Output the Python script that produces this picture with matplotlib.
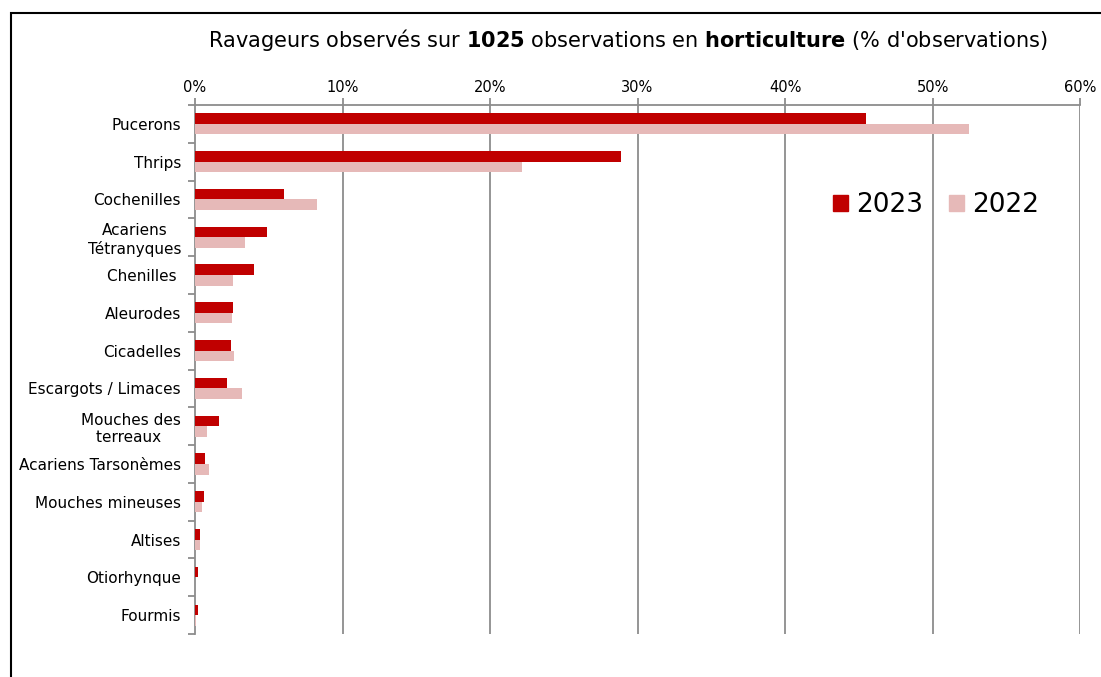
import matplotlib
matplotlib.use("Agg")
import matplotlib.pyplot as plt
from matplotlib.patches import Patch, Rectangle
import numpy as np

categories = ["Pucerons", "Thrips", "Cochenilles", "Acariens\nTétranyques", "Chenilles ",
              "Aleurodes", "Cicadelles", "Escargots / Limaces", "Mouches des\nterreaux ",
              "Acariens Tarsonèmes", "Mouches mineuses", "Altises", "Otiorhynque", "Fourmis"]
v2023 = [45.5, 28.9, 6.0, 4.9, 4.0, 2.56, 2.44, 2.17, 1.65, 0.70, 0.59, 0.32, 0.2, 0.2]
v2022 = [52.5, 22.2, 8.27, 3.4, 2.6, 2.49, 2.62, 3.17, 0.81, 0.93, 0.47, 0.32, 0.0, 0.1]
xticks = [0, 10, 20, 30, 40, 50, 60]

c23 = "#C00000"
c22 = "#E6B9B8"
grid = "#8C8C8C"

plt.rcParams['font.family'] = ['DejaVu Sans']
fig = plt.figure(figsize=(11.01, 6.77), dpi=100)
fig.patches.append(Rectangle((11/1101, -0.1), 1.2, 1 - 13/677 + 0.1, transform=fig.transFigure,
                             fill=False, edgecolor="black", linewidth=1.5))
ax = fig.add_axes([195/1101, 1 - 634/677, (1080 - 195)/1101, (634 - 105)/677])

y = np.arange(len(categories))
h = 0.28
ax.barh(y - h/2, v2023, height=h, color=c23, zorder=3)
ax.barh(y + h/2, v2022, height=h, color=c22, zorder=3)

ax.set_ylim(len(categories) - 0.5, -0.5)
ax.set_xlim(0, 60)
ax.xaxis.tick_top()
ax.set_xticks(xticks)
ax.set_xticklabels([f"{t}%" for t in xticks], fontsize=10.5)
ax.tick_params(axis='x', direction='out', length=5, color=grid, width=1.3, pad=2)
ax.set_yticks(y)
ax.set_yticklabels(categories, fontsize=11, multialignment='center')
ax.tick_params(axis='y', which='major', length=0, pad=10)
ax.set_yticks(np.arange(len(categories) + 1) - 0.5, minor=True)
ax.tick_params(axis='y', which='minor', direction='out', length=5, color=grid, width=1.3)
for t in xticks[1:]:
    ax.axvline(t, color=grid, linewidth=1.3, zorder=1)
for s in ['right', 'bottom']:
    ax.spines[s].set_visible(False)
for s in ['top', 'left']:
    ax.spines[s].set_color(grid)
    ax.spines[s].set_linewidth(1.3)

handles = [Patch(facecolor=c23, edgecolor=c23), Patch(facecolor=c22, edgecolor=c22)]
fig.legend(handles, ["2023", "2022"], loc='center', bbox_to_anchor=(936/1101, 1 - 205/677),
           ncol=2, frameon=False, fontsize=19, handlelength=0.55, handleheight=0.55,
           handletextpad=0.3, columnspacing=1.0)

fig.text(628/1101, 1 - 40/677,
         r"Ravageurs observés sur $\bf{1025}$ observations en $\bf{horticulture}$ (% d'observations)",
         ha='center', va='center', fontsize=15)

fig.savefig("out.png", dpi=100)
